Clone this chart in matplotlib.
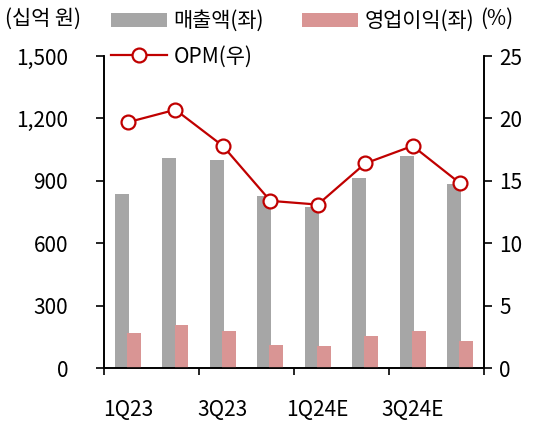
import matplotlib
matplotlib.use("Agg")
import matplotlib.pyplot as plt
import numpy as np

plt.rcParams['font.family'] = ['Noto Sans CJK KR', 'DejaVu Sans']

# data
quarters = ['1Q23', '2Q23', '3Q23', '4Q23', '1Q24E', '2Q24E', '3Q24E', '4Q24E']
sales = [838, 1011, 1001, 828, 773, 915, 1019, 886]
op_profit = [171, 209, 180, 113, 104, 152, 180, 132]
opm = [19.7, 20.7, 17.8, 13.4, 13.1, 16.4, 17.8, 14.8]

c_gray = '#A6A6A6'
c_pink = '#D99594'
c_red = '#C00000'
fs = 15

fig = plt.figure(figsize=(5.4, 4.28), dpi=100)
ax = fig.add_axes([0.193, 0.140, 0.703, 0.729])
ax2 = ax.twinx()

x = np.arange(len(quarters))
w = 0.29
b1 = ax.bar(x - 0.127, sales, width=w, color=c_gray, label='매출액(좌)', zorder=2)
b2 = ax.bar(x + 0.127, op_profit, width=w, color=c_pink, label='영업이익(좌)', zorder=3)
l1, = ax2.plot(x, opm, color=c_red, lw=1.6, marker='o', ms=10,
               mfc='white', mec=c_red, mew=1.6, label='OPM(우)', zorder=5)

ax.set_xlim(-0.5, len(quarters) - 0.5)
ax.set_ylim(0, 1500)
ax.set_yticks([0, 300, 600, 900, 1200, 1500])
ax.set_yticklabels(['0', '300', '600', '900', '1,200', '1,500'])
ax2.set_ylim(0, 25)
ax2.set_yticks([0, 5, 10, 15, 20, 25])

ax.set_xticks(np.arange(-0.5, len(quarters), 2))
ax.set_xticklabels([])
ax.set_xticks(x[::2], labels=[quarters[i] for i in x[::2]], minor=True)
ax.tick_params(axis='x', which='major', direction='out', length=5, width=1.2)
ax.tick_params(axis='x', which='minor', length=0, pad=22, labelsize=fs)
ax.tick_params(axis='y', direction='out', length=6, width=1.2, pad=20, labelsize=fs)
ax2.tick_params(axis='y', direction='out', length=6, width=1.2, pad=5, labelsize=fs)

for a in (ax, ax2):
    a.spines['top'].set_visible(False)
    for s in ('left', 'right', 'bottom'):
        a.spines[s].set_linewidth(1.2)
ax2.set_zorder(ax.get_zorder() + 1)
ax2.patch.set_visible(False)

fig.legend([b1, l1, b2], ['매출액(좌)', 'OPM(우)', '영업이익(좌)'], ncol=2,
           loc='upper left', bbox_to_anchor=(0.171, 1.02), frameon=False,
           fontsize=fs, handlelength=2.7, handletextpad=0.3,
           columnspacing=1.83, labelspacing=0.63)

fig.text(0.01, 0.955, '(십억 원)', fontsize=fs, va='center', ha='left')
fig.text(0.92, 0.955, '(%)', fontsize=fs, va='center', ha='center')

fig.savefig('out.png', dpi=100)
